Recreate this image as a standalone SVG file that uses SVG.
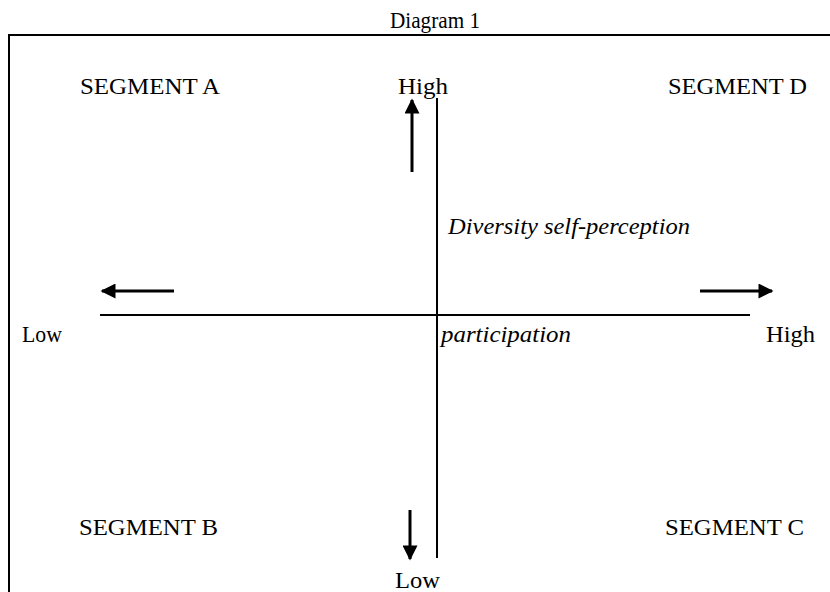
<svg xmlns="http://www.w3.org/2000/svg" width="830" height="592" viewBox="0 0 830 592">
<style>
text{font-family:"Liberation Serif","Times New Roman",serif;font-size:23px;fill:#000}
.big{font-size:24px}
.it{font-style:italic;font-size:24px}
.ln{stroke:#000;stroke-width:2;fill:none}
.ar{stroke:#000;stroke-width:3;fill:none}
</style>
<defs>
<marker id="ah" viewBox="0 0 10 10" refX="9" refY="5" markerWidth="6" markerHeight="5" markerUnits="strokeWidth" orient="auto">
<path d="M0,0 L10,5 L0,10 Z" fill="#000"/>
</marker>
</defs>
<rect width="830" height="592" fill="#fff"/>
<g id="title"><text x="390" y="28" font-size="22" textLength="90" lengthAdjust="spacingAndGlyphs">Diagram 1</text></g>
<g id="frame"><path class="ln" d="M9,592 V35 H830"/></g>
<g id="connectors">
<line class="ln" x1="437" y1="98" x2="437" y2="558"/>
<line class="ln" x1="100" y1="315" x2="750" y2="315"/>
<line class="ar" x1="412" y1="172" x2="412" y2="100" marker-end="url(#ah)"/>
<line class="ar" x1="174" y1="291" x2="102" y2="291" marker-end="url(#ah)"/>
<line class="ar" x1="700" y1="291" x2="772" y2="291" marker-end="url(#ah)"/>
<line class="ar" x1="410" y1="510" x2="410" y2="559" marker-end="url(#ah)"/>
</g>
<g id="high-top"><text x="398" y="94" textLength="50" lengthAdjust="spacingAndGlyphs">High</text></g>
<g id="segA"><text class="big" x="80" y="94" textLength="140" lengthAdjust="spacingAndGlyphs">SEGMENT A</text></g>
<g id="segD"><text class="big" x="668" y="94" textLength="139" lengthAdjust="spacingAndGlyphs">SEGMENT D</text></g>
<g id="diversity"><text class="it" x="448" y="234" textLength="242" lengthAdjust="spacingAndGlyphs">Diversity self-perception</text></g>
<g id="low-left"><text x="22" y="342" textLength="40" lengthAdjust="spacingAndGlyphs">Low</text></g>
<g id="participation"><text class="it" x="441" y="342" textLength="130" lengthAdjust="spacingAndGlyphs">participation</text></g>
<g id="high-right"><text x="766" y="342" textLength="49" lengthAdjust="spacingAndGlyphs">High</text></g>
<g id="segB"><text class="big" x="79" y="535" textLength="139" lengthAdjust="spacingAndGlyphs">SEGMENT B</text></g>
<g id="segC"><text class="big" x="665" y="535" textLength="139" lengthAdjust="spacingAndGlyphs">SEGMENT C</text></g>
<g id="low-bottom"><text x="395" y="588" textLength="45" lengthAdjust="spacingAndGlyphs">Low</text></g>
</svg>
